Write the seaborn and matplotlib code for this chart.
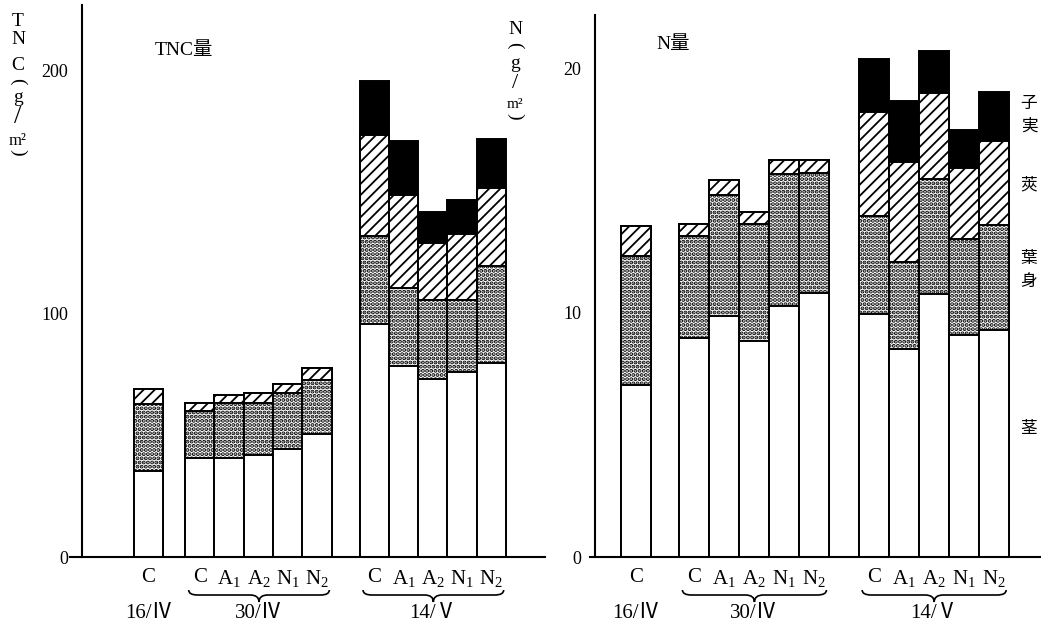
import numpy as np
import pandas as pd
import matplotlib
matplotlib.use("Agg")
import matplotlib.pyplot as plt
import seaborn as sns
from matplotlib.path import Path
from matplotlib.patches import PathPatch
from matplotlib.transforms import blended_transform_factory

# ---------------- data ----------------
dates = ["16/Ⅳ", "30/Ⅳ", "14/Ⅴ"]
treatments = [["C"], ["C", "A1", "A2", "N1", "N2"], ["C", "A1", "A2", "N1", "N2"]]
tick_text = {"C": "C", "A1": r"A$_\mathregular{1}$", "A2": r"A$_\mathregular{2}$",
             "N1": r"N$_\mathregular{1}$", "N2": r"N$_\mathregular{2}$"}
parts = ["子実", "莢", "葉身", "茎"]

# TNC (g/m2) per organ
tnc_stem = [35.4, 40.8, 40.8, 41.9, 44.4, 50.4, 95.6, 78.4, 73.0, 76.1, 79.5]
tnc_leaf = [27.3, 19.3, 22.3, 21.2, 23.1, 22.3, 36.4, 31.9, 32.5, 29.4, 40.0]
tnc_pod = [6.3, 3.0, 3.4, 4.4, 3.5, 4.9, 41.2, 38.4, 23.3, 27.0, 31.9]
tnc_seed = [0, 0, 0, 0, 0, 0, 22.4, 22.3, 13.0, 14.1, 20.1]

# N (g/m2) per organ
n_stem = [7.05, 8.99, 9.88, 8.85, 10.30, 10.80, 9.96, 8.51, 10.78, 9.10, 9.30]
n_leaf = [5.29, 4.14, 4.96, 4.80, 5.40, 4.92, 4.02, 3.59, 4.70, 3.92, 4.28]
n_pod = [1.23, 0.52, 0.61, 0.50, 0.57, 0.55, 4.23, 4.06, 3.52, 2.91, 3.44]
n_seed = [0, 0, 0, 0, 0, 0, 2.20, 2.53, 1.71, 1.54, 2.01]

# ---------------- style ----------------
sns.set_theme(style="white", rc={
    "axes.edgecolor": "black", "axes.linewidth": 1.5,
    "text.color": "black", "xtick.color": "black", "ytick.color": "black",
    "axes.labelcolor": "black", "hatch.linewidth": 1.3,
    "mathtext.fontset": "custom", "mathtext.rm": "Liberation Serif",
})
plt.rcParams["font.family"] = ["Liberation Serif", "Noto Sans CJK JP"]

W, H = 1041, 630
fig = plt.figure(figsize=(W / 100, H / 100), dpi=100)


def fx(px):
    return px / W


def fy(py):
    return 1 - py / H


def positions(gaps):
    pos, x = [], 0.0
    for gi, trts in enumerate(treatments):
        if gi > 0:
            x = pos[-1] + gaps[gi - 1]
        for k, _ in enumerate(trts):
            pos.append(x + k)
    return pos


def brace(ax, x0, x1, yt, ym, yb, d=0.3):
    tr = blended_transform_factory(ax.transData, fig.transFigure)
    xc = (x0 + x1) / 2
    verts = [(x0, yt), (x0, ym), (x0 + d, ym), (xc - d, ym), (xc, ym), (xc, yb),
             (xc, ym), (xc + d, ym), (x1 - d, ym), (x1, ym), (x1, yt)]
    codes = [Path.MOVETO, Path.CURVE3, Path.CURVE3, Path.LINETO, Path.CURVE3, Path.CURVE3,
             Path.CURVE3, Path.CURVE3, Path.LINETO, Path.CURVE3, Path.CURVE3]
    patch = PathPatch(Path(verts, codes), transform=tr, fill=False, lw=1.2,
                      edgecolor="black", clip_on=False)
    ax.add_patch(patch)


def draw_panel(ax, pos, stem, leaf, pod, seed, xlim, spine_x, ylim, yticks,
               brace_pad):
    c1 = np.array(stem)
    c2 = c1 + np.array(leaf)
    c3 = c2 + np.array(pod)
    c4 = c3 + np.array(seed)
    df = pd.DataFrame({"x": pos, "stem": c1, "leaf": c2, "pod": c3, "seed": c4})
    layers = [("seed", "black", None, 1.3), ("pod", "white", "///", 1.3),
              ("leaf", "white", "....", 2.0), ("stem", "white", None, 1.3)]
    for col, fc, hatch, hlw in layers:
        with plt.rc_context({"hatch.linewidth": hlw}):
            sns.barplot(data=df, x="x", y=col, native_scale=True, width=1.0,
                        color=fc, saturation=1, edgecolor="black", linewidth=1.4,
                        hatch=hatch, errorbar=None, ax=ax)
    ax.set_xlim(*xlim)
    ax.set_ylim(*ylim)
    ax.set_xlabel("")
    ax.set_ylabel("")
    ax.spines["top"].set_visible(False)
    ax.spines["right"].set_visible(False)
    ax.spines["left"].set_position(("data", spine_x))
    labels = [tick_text[t] for trts in treatments for t in trts]
    ax.set_xticks(pos, labels=labels)
    ax.tick_params(axis="x", length=0, pad=8, labelsize=15)
    ax.set_yticks(yticks, labels=[str(v) for v in yticks])
    ax.tick_params(axis="y", direction="in", length=10, width=1.4, pad=10,
                   labelsize=13)
    # braces and date labels
    tr = blended_transform_factory(ax.transData, fig.transFigure)
    start = 0
    for gi, trts in enumerate(treatments):
        gp = pos[start:start + len(trts)]
        start += len(trts)
        xc = (gp[0] + gp[-1]) / 2
        if len(trts) > 1:
            brace(ax, gp[0] - brace_pad[0], gp[-1] + brace_pad[1],
                  fy(590), fy(595), fy(602))
        ax.text(xc, fy(613), dates[gi], transform=tr, ha="center", va="center",
                fontsize=15)


# left panel: TNC
pos_l = positions([1.75, 1.95])
ax1 = fig.add_axes([fx(70), fy(557), fx(545 - 70), (557 - 5) / H])
draw_panel(ax1, pos_l, tnc_stem, tnc_leaf, tnc_pod, tnc_seed,
           xlim=(-2.68, 13.53), spine_x=-2.27, ylim=(0, 226.7),
           yticks=[0, 100, 200], brace_pad=(0.38, 0.42))

# right panel: N
pos_r = positions([1.93, 1.99])
ax2 = fig.add_axes([fx(590), fy(557), fx(1041 - 590), (557 - 15) / H])
draw_panel(ax2, pos_r, n_stem, n_leaf, n_pod, n_seed,
           xlim=(-1.53, 13.5), spine_x=-1.37, ylim=(0, 22.2),
           yticks=[0, 10, 20], brace_pad=(0.38, 0.42))

# panel titles
fig.text(fx(184), fy(50), "TNC量", ha="center", va="center", fontsize=14)
fig.text(fx(673), fy(45), "N量", ha="center", va="center", fontsize=14)

# vertical y-axis labels
def vlabel(x, items):
    for txt, y, rot, size in items:
        fig.text(fx(x), fy(y), txt, ha="center", va="center", rotation=rot,
                 fontsize=size)

vlabel(18, [("T", 21, 0, 14), ("N", 40, 0, 14), ("C", 66, 0, 14),
            ("(", 81, -90, 14), ("g", 98, 0, 14), ("/", 117, 0, 19),
            ("m²", 141, 0, 12), (")", 152, -90, 14)])
vlabel(515, [("N", 30, 0, 14), ("(", 45, -90, 14), ("g", 63, 0, 14),
             ("/", 84, 0, 16), ("m²", 105, 0, 11), (")", 116, -90, 14)])

# organ legend on the right
for txt, y in [("子\n実", 115), ("莢", 185), ("葉\n身", 270), ("茎", 428)]:
    fig.text(fx(1029), fy(y), txt, ha="center", va="center", fontsize=12,
             linespacing=1.45, family=["Noto Sans CJK JP"])

fig.savefig("out.png", dpi=100)
